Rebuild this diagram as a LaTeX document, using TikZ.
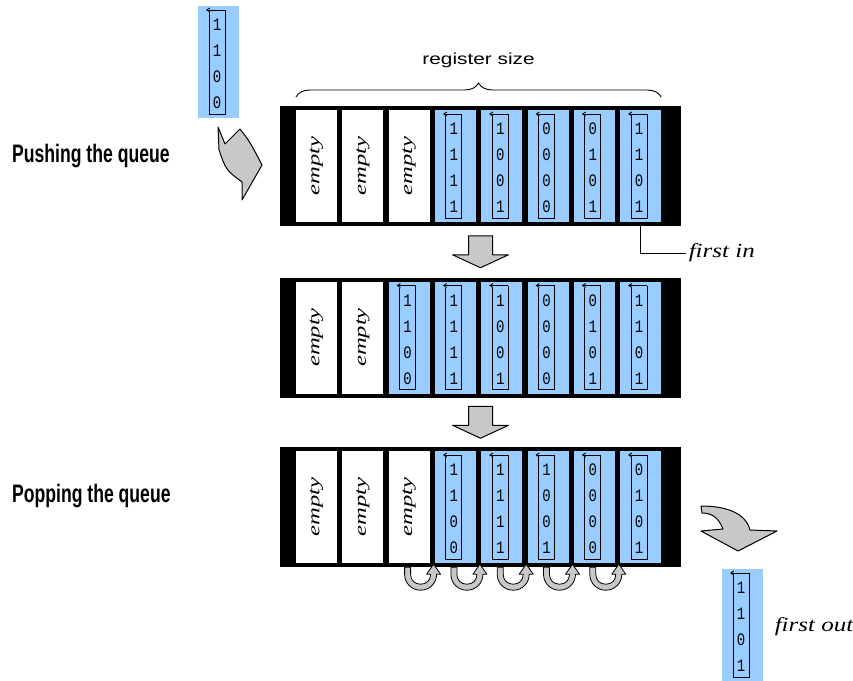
\documentclass[tikz,border=0pt]{standalone}
\usepackage{fontspec}
\usepackage{tikz}
\usetikzlibrary{decorations.pathreplacing, positioning, calc, arrows.meta}
\newfontfamily\labelfont{Liberation Sans}
\newfontfamily\notefont{Liberation Serif}
\newfontfamily\bitfont{Liberation Mono}
\definecolor{cellblue}{RGB}{153,204,255}
\definecolor{arrowgray}{RGB}{200,200,200}

% one stored vector: name, centre x, centre y, bits
\newcommand{\bitvector}[4]{%
  \node[cell, fill=cellblue] (#1) at (#2,#3) {};
  \draw[vecline] ($(#1.north west)+(11,6)$) -- ($(#1.south west)+(11,-4)$)
    -- ($(#1.south west)+(27,-4)$) -- ($(#1.north west)+(27,4)$);
  \draw[vecline, -{Straight Barb[length=3pt,width=4pt]}] ($(#1.north west)+(27,4)$) -- ($(#1.north west)+(8,4)$);
  \edef\bitlist{#4}
  \foreach \d [count=\k] in \bitlist {
    \node[bit] (#1-\k) at ($(#1.north west)+(19,26*\k-7)$) {\d};
  }
}

% register: name, centre y, number of empty cells, stored vectors
\newcommand{\register}[4]{%
  \node[register] (#1) at (480.5,#2) {};
  \foreach \i in {1,...,#3} {
    \pgfmathsetmacro{\x}{316.5+(\i-1)*46.3}
    \node[cell, fill=white] (#1\i) at (\x,#2) {};
    \node[emptytext] (#1\i-txt) at (#1\i) {empty};
  }
  \foreach \v [count=\j] in {#4} {
    \pgfmathtruncatemacro{\i}{\j+#3}
    \pgfmathsetmacro{\x}{316.5+(\i-1)*46.3}
    \bitvector{#1\i}{\x}{#2}{\v}
  }
}

\begin{document}
\begin{tikzpicture}[x=1pt, y=-1pt,
  register/.style={fill=black, minimum width=401pt, minimum height=120pt, inner sep=0pt},
  cell/.style={minimum width=41pt, minimum height=112pt, inner sep=0pt, outer sep=0pt},
  vecline/.style={black, line width=0.9pt},
  bit/.style={font=\bitfont\fontsize{14}{14}\selectfont, yscale=1.25, inner sep=0pt},
  emptytext/.style={rotate=90, xscale=1.45, font=\notefont\fontsize{17}{17}\selectfont\itshape, inner sep=0pt},
  note/.style={xscale=1.25, font=\notefont\fontsize{20}{20}\selectfont\itshape, inner sep=2pt},
  steplabel/.style={xscale=0.8, yscale=1.15, font=\labelfont\fontsize{22}{22}\selectfont\bfseries, inner sep=0pt},
  sizelabel/.style={xscale=1.3, font=\labelfont\fontsize{16}{16}\selectfont, inner sep=0pt},
  blockarrow/.style={fill=arrowgray, draw=black, line width=1pt, line join=round}]

  \useasboundingbox (0,0) rectangle (853,680);

  % the three states of the register
  \register{top}{166}{3}{{1,1,1,1},{1,0,0,1},{0,0,0,0},{0,1,0,1},{1,1,0,1}}
  \register{mid}{337.5}{2}{{1,1,0,0},{1,1,1,1},{1,0,0,1},{0,0,0,0},{0,1,0,1},{1,1,0,1}}
  \register{bot}{507}{3}{{1,1,0,0},{1,1,1,1},{1,0,0,1},{0,0,0,0},{0,1,0,1}}

  % vector going in and vector coming out
  \bitvector{invec}{218.5}{62}{1,1,0,0}
  \bitvector{outvec}{742.5}{625}{1,1,0,1}

  % labels
  \node[steplabel, anchor=west] (pushing) at (12,156) {Pushing the queue};
  \node[steplabel, anchor=west] (popping) at (12,496) {Popping the queue};

  \draw[decorate, decoration={brace, amplitude=14pt}, line width=0.9pt]
    ($(top1.north west)+(0,-13)$) -- ($(top8.north east)+(0,-13)$);
  \node[sizelabel] (regsize) at ($(top1.north west)!0.5!(top8.north east)+(0,-50)$) {register size};

  \node[note, anchor=west] (firstin) at (686,253) {first in};
  \draw[line width=0.8pt] (top8.south |- top.south) |- (firstin.west);
  \node[note, anchor=west] (firstout) at (772,627) {first out};

  % shift arrows between the states
  \coordinate (gap1) at ($(top.south)!0.5!(mid.north)$);
  \coordinate (gap2) at ($(mid.south)!0.5!(bot.north)$);
  \foreach \g in {gap1,gap2}
    \draw[blockarrow, shift={(\g)}] (-12,-16) -- (12,-16) -- (12,3) -- (28,3) -- (0,16)
      -- (-28,3) -- (-12,3) -- cycle;

  % push arrow
  \draw[blockarrow] (218,127) -- (225,144) -- (240,129) .. controls (250,142) .. (262,165)
    -- (242,200) -- (242,182) .. controls (226,170) .. (219,150) -- cycle;

  % pop arrow
  \draw[blockarrow] (701,506) .. controls (728,506) and (746,514) .. (750,530) -- (777,531)
    -- (738,551) -- (701,531) -- (723,529) .. controls (718,516) and (710,513) .. (702,513) -- cycle;

  % cells moving one place on
  \foreach \i in {3,...,7}
    \draw[blockarrow, line width=0.8pt, shift={($(bot\i.east |- bot.south)+(-9,0)$)}]
      (-16,0) -- (-16,7) .. controls (-16,16) and (-9,23) .. (0,23)
      .. controls (9,23) and (16,16) .. (16,7) -- (20,7) -- (13,-3) -- (6,7) -- (10,7)
      .. controls (10,13) and (6,17) .. (0,17) .. controls (-6,17) and (-10,13) .. (-10,7)
      -- (-10,0) -- cycle;
\end{tikzpicture}
\end{document}
